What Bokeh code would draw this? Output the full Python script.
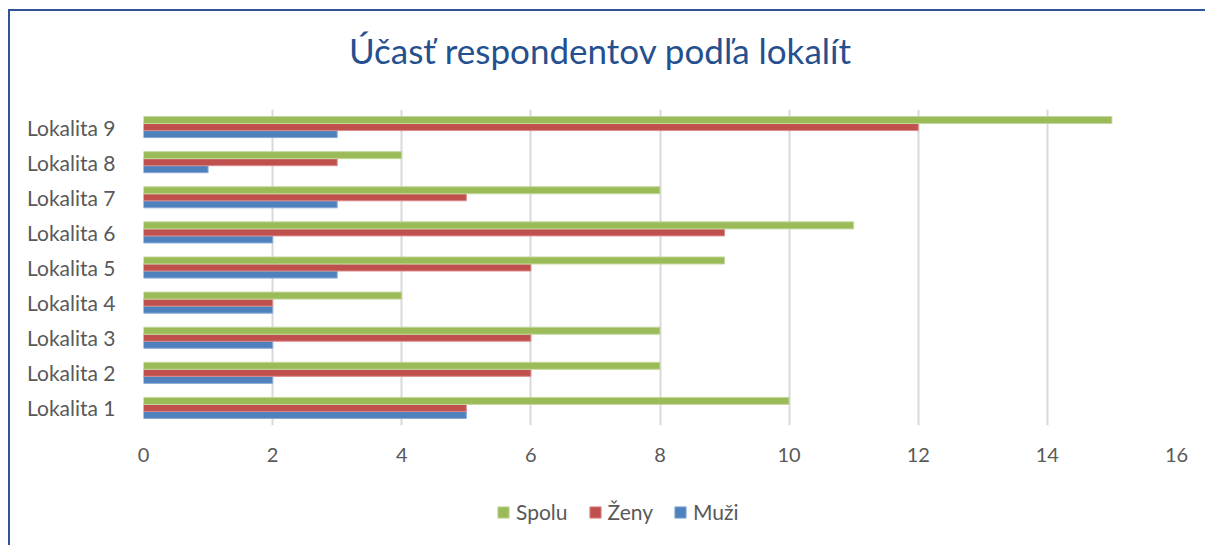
import numpy as np
from bokeh.plotting import figure
from bokeh.layouts import column
from bokeh.models import Range1d, FactorRange, FixedTicker, Legend, LegendItem, ColumnDataSource, Div
from bokeh.transform import dodge
from bokeh.embed import file_html
from bokeh.resources import INLINE

locations = ["Lokalita 1", "Lokalita 2", "Lokalita 3", "Lokalita 4", "Lokalita 5",
             "Lokalita 6", "Lokalita 7", "Lokalita 8", "Lokalita 9"]
muzi = [5, 2, 2, 2, 3, 2, 3, 1, 3]
zeny = [5, 6, 6, 2, 6, 9, 5, 3, 12]
spolu = [10, 8, 8, 4, 9, 11, 8, 4, 15]
x_ticks = [0, 2, 4, 6, 8, 10, 12, 14, 16]
series_names = ["Spolu", "Ženy", "Muži"]
title_text = "Účasť respondentov podľa lokalít"

FONT = "Lato"
TXT = "#595959"
C_MUZI, C_ZENY, C_SPOLU = "#4F81BD", "#C0504D", "#9BBB59"
E_MUZI, E_ZENY, E_SPOLU = "#86A8D6", "#DA8B89", "#C3D89E"

title = Div(text=('<div style="font-family:Lato;font-size:35px;color:#25508F;'
                  'padding-left:339px;padding-top:18px;line-height:42px;white-space:nowrap">'
                  + title_text + '</div>'), width=1195, height=98, margin=0)

p = figure(width=1195, height=371, y_range=FactorRange(*locations, range_padding=0),
           x_range=Range1d(0, 16), output_backend="svg", toolbar_location=None,
           min_border_left=133, min_border_right=29, min_border_top=0, min_border_bottom=55,
           margin=0)

source = ColumnDataSource(dict(loc=locations, muzi=muzi, zeny=zeny, spolu=spolu))

rb = p.hbar(y=dodge("loc", -0.2, range=p.y_range), right="muzi", left=0, height=0.2, source=source,
            fill_color=C_MUZI, line_color=E_MUZI, line_width=1)
rr = p.hbar(y=dodge("loc", 0.0, range=p.y_range), right="zeny", left=0, height=0.2, source=source,
            fill_color=C_ZENY, line_color=E_ZENY, line_width=1)
rg = p.hbar(y=dodge("loc", 0.2, range=p.y_range), right="spolu", left=0, height=0.2, source=source,
            fill_color=C_SPOLU, line_color=E_SPOLU, line_width=1)

p.outline_line_color = None
p.ygrid.grid_line_color = None
p.xgrid.grid_line_color = "#D9D9D9"
p.xgrid.grid_line_width = 2
p.xaxis.ticker = FixedTicker(ticks=x_ticks)

for ax in (p.xaxis[0], p.yaxis[0]):
    ax.axis_line_color = None
    ax.major_tick_line_color = None
    ax.minor_tick_line_color = None
    ax.major_label_text_font = FONT
    ax.major_label_text_color = TXT
p.xaxis.major_label_text_font_size = "20px"
p.yaxis.major_label_text_font_size = "21px"
p.xaxis.major_label_standoff = 16
p.yaxis.major_label_standoff = 22

# legend strip below the chart (swatch renderers carry no drawable data)
lg = figure(width=1195, height=65, x_range=Range1d(0, 1), y_range=Range1d(0, 1),
            output_backend="svg", toolbar_location=None, min_border=0, margin=0,
            x_axis_type=None, y_axis_type=None)
lg.outline_line_color = None
lg.xgrid.visible = False
lg.ygrid.visible = False
swatch = ColumnDataSource(dict(y=np.array([np.nan]), right=np.array([np.nan])))
lgs = lg.hbar(y="y", right="right", left=0, height=0.1, source=swatch, fill_color=C_SPOLU, line_color=E_SPOLU)
lgz = lg.hbar(y="y", right="right", left=0, height=0.1, source=swatch, fill_color=C_ZENY, line_color=E_ZENY)
lgm = lg.hbar(y="y", right="right", left=0, height=0.1, source=swatch, fill_color=C_MUZI, line_color=E_MUZI)

legend = Legend(items=[LegendItem(label=series_names[0], renderers=[lgs]),
                       LegendItem(label=series_names[1], renderers=[lgz]),
                       LegendItem(label=series_names[2], renderers=[lgm])],
                orientation="horizontal", location=(353, 21), border_line_color=None,
                background_fill_alpha=0, label_text_font=FONT, label_text_font_size="21px",
                label_text_color=TXT, glyph_width=14, glyph_height=14, label_standoff=6,
                spacing=20, padding=0, margin=0)
lg.add_layout(legend)

layout = column(title, p, lg, spacing=0,
                styles={"margin-left": "8px", "margin-top": "9px",
                        "border-left": "2px solid #2F5597", "border-top": "2px solid #2F5597"})

open("out.html", "w").write(file_html(layout, INLINE))
